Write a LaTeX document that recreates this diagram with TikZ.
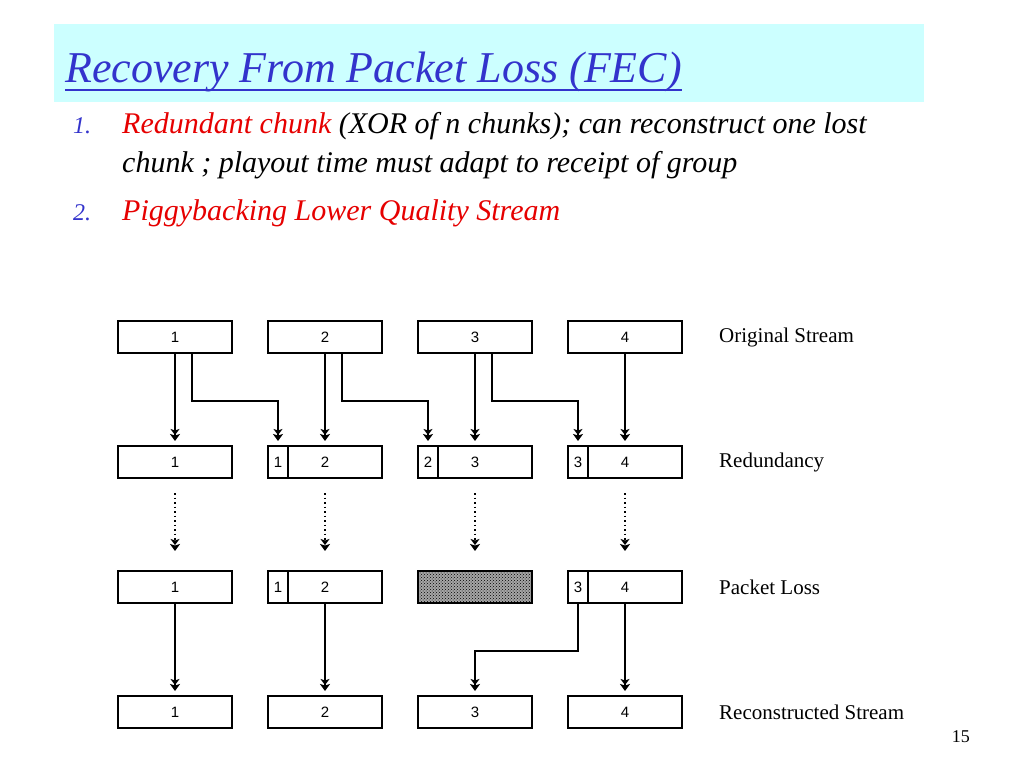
\documentclass[tikz,border=0pt]{standalone}
\usepackage{fontspec}
\usepackage{tikz}
\usetikzlibrary{arrows.meta, positioning, patterns}

\setmainfont{Liberation Serif}
\newfontfamily\boxfamily{Liberation Sans}

\definecolor{bandcyan}{RGB}{204,255,255}
\definecolor{titleblue}{RGB}{51,51,204}
\definecolor{redtext}{RGB}{230,0,0}

\begin{document}
\begin{tikzpicture}[x=1pt, y=-1pt]
	\tikzstyle{format} = [draw, line width=2pt, minimum width=114pt, minimum height=32pt, inner sep=0pt, font=\boxfamily\fontsize{15}{17}\selectfont]
	\tikzstyle{piece} = [draw, line width=2pt, minimum width=20pt, minimum height=32pt, inner sep=0pt, anchor=west, font=\boxfamily\fontsize{15}{17}\selectfont]
	\tikzstyle{rowname} = [anchor=west, inner sep=0pt, font=\fontsize{21}{24}\selectfont]
	\tikzstyle{item} = [anchor=base west, inner sep=0pt, font=\itshape\fontsize{30}{34}\selectfont]
	\tikzstyle{flow} = [-{Stealth[length=6pt,width=9pt,inset=1.5pt,sep=-1pt]Stealth[length=7pt,width=10pt,inset=1.5pt]}, line width=2pt, shorten >=4pt]

	\useasboundingbox[fill=white] (0,0) rectangle (1024,768);

	% title band
	\fill[bandcyan] (54,24) rectangle (924,102);
	\node[anchor=base west, inner sep=0pt, text=titleblue, font=\itshape\fontsize{44}{50}\selectfont] (title) at (65,82) {Recovery From Packet Loss (FEC)};
	\draw[titleblue, line width=2pt] ([yshift=-8pt]title.base west) -- ([yshift=-8pt]title.base east);

	% bullet points
	\node[item, text=titleblue, font=\itshape\fontsize{24}{28}\selectfont] (n1) at (73,133) {1.};
	\node[item] (i1) at (122,133) {\textcolor{redtext}{Redundant chunk }(XOR of n chunks); can reconstruct one lost};
	\node[item] (i1b) at (122,172) {chunk ; playout time must adapt to receipt of group};
	\node[item, text=titleblue, font=\itshape\fontsize{24}{28}\selectfont] (n2) at (73,220) {2.};
	\node[item, text=redtext] (i2) at (122,220) {Piggybacking Lower Quality Stream};

	% original stream
	\path
		node[format] (o1) at (175,337) {1}
		node[format, right=34pt of o1] (o2) {2}
		node[format, right=34pt of o2] (o3) {3}
		node[format, right=34pt of o3] (o4) {4}
		node[rowname, right=36pt of o4] (lo) {Original Stream}
	;

	% redundancy
	\path
		node[format, below=91pt of o1] (r1) {1}
		node[format, below=91pt of o2] (r2) {2}
		node[format, below=91pt of o3] (r3) {3}
		node[format, below=91pt of o4] (r4) {4}
		node[piece] (s2) at (r2.west) {1}
		node[piece] (s3) at (r3.west) {2}
		node[piece] (s4) at (r4.west) {3}
		node[rowname, right=36pt of r4] (lr) {Redundancy}
	;

	% packet loss
	\path
		node[format, below=91pt of r1] (p1) {1}
		node[format, below=91pt of r2] (p2) {2}
		node[format, below=91pt of r3, preaction={fill=black!35}, pattern=crosshatch dots] (p3) {}
		node[format, below=91pt of r4] (p4) {4}
		node[piece] (q2) at (p2.west) {1}
		node[piece] (q4) at (p4.west) {3}
		node[rowname, right=36pt of p4] (lp) {Packet Loss}
	;

	% reconstructed stream
	\path
		node[format, below=91pt of p1] (c1) {1}
		node[format, below=91pt of p2] (c2) {2}
		node[format, below=91pt of p3] (c3) {3}
		node[format, below=91pt of p4] (c4) {4}
		node[rowname, right=36pt of c4] (lc) {Reconstructed Stream}
	;

	\node[anchor=base east, inner sep=0pt, font=\fontsize{18}{20}\selectfont] (page) at (970,742) {15};

	% original -> redundancy
	\foreach \i in {1,...,4}
		\draw[flow] (o\i) -- (r\i);
	\draw[flow] ([xshift=75pt]o1.south west) -- ++(0,47) -| (s2.north);
	\draw[flow] ([xshift=75pt]o2.south west) -- ++(0,47) -| (s3.north);
	\draw[flow] ([xshift=75pt]o3.south west) -- ++(0,47) -| (s4.north);

	% redundancy -> packet loss
	\foreach \i in {1,...,4}
		\draw[flow, dash pattern=on 1.5pt off 3pt, shorten >=0pt] ([yshift=-14pt]r\i.south) -- ([yshift=19pt]p\i.north);

	% packet loss -> reconstructed
	\draw[flow] (p1) -- (c1);
	\draw[flow] (p2) -- (c2);
	\draw[flow] (p4) -- (c4);
	\draw[flow] (q4.south) -- ++(0,47) -| (c3.north);
\end{tikzpicture}
\end{document}
